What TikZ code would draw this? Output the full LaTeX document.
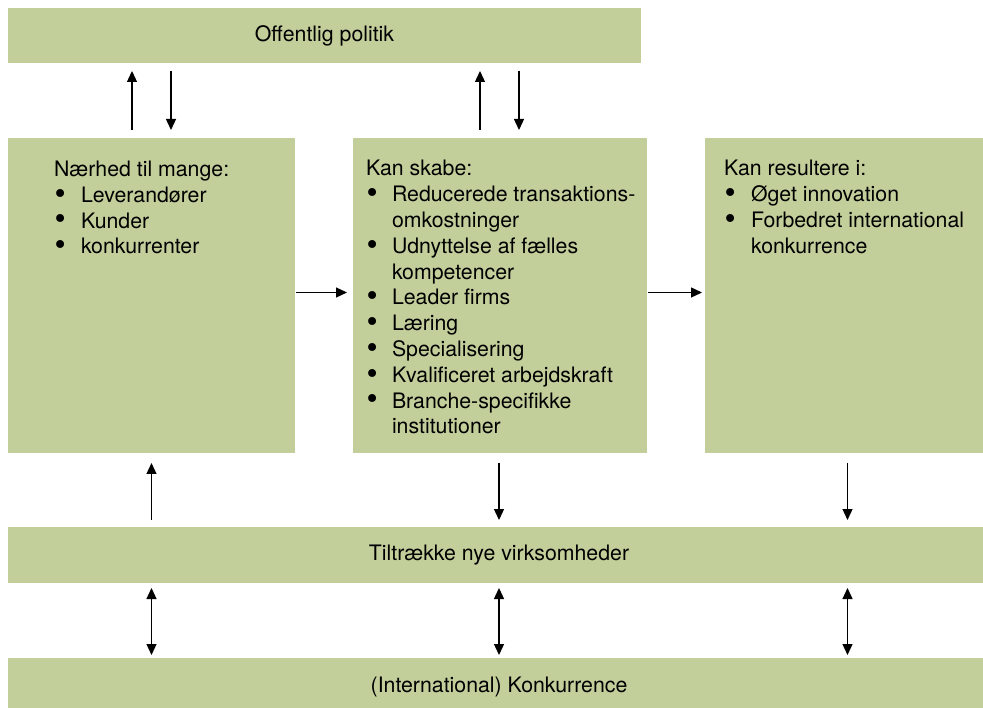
\documentclass[tikz,border=0pt]{standalone}
\usepackage{fontspec}
\usepackage{graphicx}
\setmainfont{TeX Gyre Heros}
\usetikzlibrary{arrows.meta,positioning}
\definecolor{feltgroen}{RGB}{194,207,155}
\newcommand{\prik}{\hspace*{0.5pt}\raisebox{-1.8pt}{\scalebox{1.5}{\textbullet}}}
\tikzset{
  felt/.style={fill=feltgroen,inner sep=0pt,outer sep=0pt,anchor=north west,font=\fontsize{21.3}{25.8}\selectfont},
  feltekst/.style={anchor=base west,inner sep=0pt,outer sep=0pt,font=\fontsize{21.3}{25.8}\selectfont},
  pil/.style={-{Triangle[length=11pt,width=10pt]},line width=1.3pt},
  dobbeltpil/.style={{Triangle[length=11pt,width=10pt]}-{Triangle[length=11pt,width=10pt]},line width=1.3pt}
}
\begin{document}
\begin{tikzpicture}[x=1pt,y=-1pt]

	\useasboundingbox (0,0) rectangle (983,708);

	\node[felt,minimum width=633pt,minimum height=55pt] (politik) at (8,8) {Offentlig politik};
	\node[felt,minimum width=287pt,minimum height=315pt] (venstre) at (8,138) {};
	\node[felt,minimum width=294pt,minimum height=315pt] (midte) at (353,138) {};
	\node[felt,minimum width=285pt,minimum height=315pt] (hoejre) at (705,138) {};
	\node[felt,minimum width=982pt,minimum height=56pt] (tiltraek) at (8,527) {Tiltrække nye virksomheder};
	\node[felt,minimum width=982pt,minimum height=58pt] (konk) at (8,658) {(International) Konkurrence};

	\node[feltekst] (venstretekst) at (54,176.5) {\begin{tabular}[t]{@{}p{27pt}@{}l@{}}
		\multicolumn{2}{@{}l@{}}{Nærhed til mange:}\\
		\prik & Leverandører\\
		\prik & Kunder\\
		\prik & konkurrenter
	\end{tabular}};
	\node[feltekst] (midtetekst) at (366,176) {\begin{tabular}[t]{@{}p{26pt}@{}l@{}}
		\multicolumn{2}{@{}l@{}}{Kan skabe:}\\
		\prik & Reducerede transaktions-\\
		& omkostninger\\
		\prik & Udnyttelse af fælles\\
		& kompetencer\\
		\prik & Leader firms\\
		\prik & Læring\\
		\prik & Specialisering\\
		\prik & Kvalificeret arbejdskraft\\
		\prik & Branche-specifikke\\
		& institutioner
	\end{tabular}};
	\node[feltekst] (hoejretekst) at (724,176) {\begin{tabular}[t]{@{}p{27pt}@{}l@{}}
		\multicolumn{2}{@{}l@{}}{Kan resultere i:}\\
		\prik & Øget innovation\\
		\prik & Forbedret international\\
		& konkurrence
	\end{tabular}};

	\draw[pil,shorten <=8pt,shorten >=8pt] ([xshift=-19.5pt]venstre.north) -- ([xshift=-19.5pt]venstre.north |- politik.south);
	\draw[pil,shorten <=8pt,shorten >=8pt] ([xshift=19.5pt]venstre.north |- politik.south) -- ([xshift=19.5pt]venstre.north);
	\draw[pil,shorten <=8pt,shorten >=8pt] ([xshift=-20pt]midte.north) -- ([xshift=-20pt]midte.north |- politik.south);
	\draw[pil,shorten <=8pt,shorten >=8pt] ([xshift=19pt]midte.north |- politik.south) -- ([xshift=19pt]midte.north);

	\draw[pil,shorten <=1pt,shorten >=6pt] ([yshift=3pt]venstre.east) -- ([yshift=3pt]midte.west);
	\draw[pil,shorten <=1pt,shorten >=3pt] ([yshift=3pt]midte.east) -- ([yshift=3pt]hoejre.west);

	\draw[pil,shorten <=7pt,shorten >=10pt] (venstre.south |- tiltraek.north) -- (venstre.south);
	\draw[pil,shorten <=10pt,shorten >=7pt] ([xshift=-1pt]midte.south) -- ([xshift=-1pt]midte.south |- tiltraek.north);
	\draw[pil,shorten <=10pt,shorten >=7pt] (hoejre.south) -- (hoejre.south |- tiltraek.north);

	\draw[dobbeltpil,shorten <=5pt,shorten >=3pt] (venstre.south |- tiltraek.south) -- (venstre.south |- konk.north);
	\draw[dobbeltpil,shorten <=5pt,shorten >=3pt] ([xshift=-1pt]midte.south |- tiltraek.south) -- ([xshift=-1pt]midte.south |- konk.north);
	\draw[dobbeltpil,shorten <=5pt,shorten >=3pt] (hoejre.south |- tiltraek.south) -- (hoejre.south |- konk.north);

\end{tikzpicture}
\end{document}
